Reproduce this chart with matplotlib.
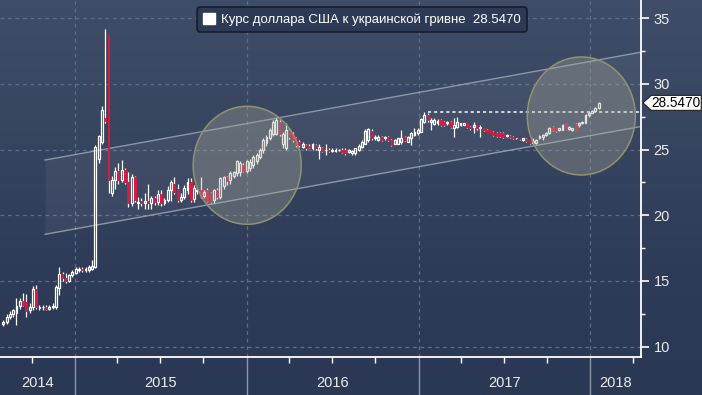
import numpy as np
import pandas as pd
import matplotlib
matplotlib.use("Agg")
import matplotlib.pyplot as plt
import matplotlib.dates as mdates
from matplotlib.patches import Ellipse, Polygon, Patch
from matplotlib.colors import LinearSegmentedColormap

plt.rcParams["font.family"] = ["Liberation Sans", "DejaVu Sans"]

# weekly USD/UAH candles, Aug 2014 - Jan 2018
opens = [11.7, 11.9, 12.3, 12.5, 12.6, 13.1, 13.5, 13.4, 12.8, 13.0,
         14.4, 12.95, 13.0, 13.05, 12.9, 13.0, 13.05, 14.5, 15.5, 15.25,
         15.0, 15.45, 15.6, 15.85, 15.9, 15.8, 15.85, 15.9, 16.1, 24.3,
         25.6, 27.4, 33.7, 21.7, 22.7, 23.4, 22.7, 23.45, 22.55, 20.9,
         22.9, 20.9, 21.05, 20.9, 21.1, 20.9, 21.3, 21.0, 21.6, 20.95,
         21.15, 21.9, 22.4, 22.0, 21.15, 21.4, 21.9, 22.55, 21.2, 21.85,
         21.95, 21.5, 21.9, 21.7, 21.15, 21.9, 21.4, 22.2, 22.9, 22.7,
         23.0, 23.2, 23.3, 23.8, 23.4, 23.6, 23.8, 24.1, 24.45, 24.95,
         25.5, 25.85, 26.2, 26.2, 27.1, 25.45, 25.1, 26.5, 26.2, 25.85,
         25.6, 25.2, 25.35, 25.3, 25.1, 25.35, 24.95, 25.1, 24.93, 24.95,
         24.85, 24.9, 24.93, 24.95, 25.0, 24.83, 24.7, 24.7, 25.0, 25.2,
         25.45, 25.7, 26.4, 25.85, 25.72, 25.97, 25.84, 25.97, 25.72, 25.45,
         25.45, 25.6, 25.97, 25.6, 25.84, 26.1, 26.22, 26.35, 27.1, 27.62,
         27.11, 26.92, 27.0, 27.24, 27.11, 26.98, 27.11, 26.6, 26.73, 26.86,
         26.9, 26.98, 26.73, 26.7, 26.86, 26.6, 26.6, 26.48, 26.48, 26.35,
         26.22, 26.22, 26.27, 26.02, 26.02, 25.97, 25.84, 25.84, 25.72, 25.77,
         25.72, 25.46, 25.46, 25.84, 25.97, 26.1, 26.22, 26.68, 26.6, 26.48,
         26.48, 26.98, 26.53, 26.48, 26.93, 26.86, 26.98, 27.04, 27.62, 27.8,
         27.95, 28.13]
highs = [12.0, 12.5, 12.7, 12.9, 13.7, 13.7, 14.1, 14.0, 13.3, 14.6,
         14.7, 13.2, 13.2, 13.2, 13.2, 13.35, 14.7, 16.05, 15.7, 15.6,
         15.55, 15.8, 16.1, 16.1, 16.1, 16.05, 16.2, 16.6, 25.35, 26.1,
         28.3, 34.2, 33.7, 23.0, 23.7, 23.95, 24.2, 23.6, 23.3, 23.1,
         23.0, 21.4, 21.3, 21.7, 22.4, 21.5, 21.5, 21.9, 21.9, 21.3,
         22.2, 22.7, 22.9, 22.4, 21.7, 22.3, 22.8, 22.8, 22.3, 22.0,
         22.9, 21.9, 22.1, 21.8, 22.0, 22.1, 22.9, 23.0, 23.0, 23.4,
         23.4, 24.2, 24.1, 24.0, 24.2, 24.3, 24.6, 24.7, 25.1, 25.85,
         26.1, 26.6, 27.25, 27.4, 27.25, 26.35, 27.0, 26.6, 26.35, 25.95,
         25.7, 25.6, 25.45, 25.4, 25.5, 25.45, 25.45, 25.2, 25.45, 25.1,
         25.1, 25.1, 25.05, 25.1, 25.1, 25.05, 25.0, 25.15, 25.4, 25.7,
         26.55, 26.6, 26.55, 26.1, 26.1, 26.05, 26.0, 26.05, 25.8, 25.8,
         25.9, 26.5, 26.05, 26.05, 26.35, 26.6, 26.6, 27.4, 27.88, 27.75,
         27.37, 27.37, 27.3, 27.3, 27.2, 27.2, 27.2, 27.37, 27.5, 27.05,
         27.05, 27.05, 26.8, 27.11, 26.9, 26.86, 26.65, 26.55, 26.5, 26.4,
         26.3, 26.3, 26.3, 26.15, 26.1, 26.0, 25.9, 25.9, 25.9, 25.85,
         25.75, 25.84, 25.8, 26.1, 26.15, 26.3, 26.73, 26.75, 26.65, 26.65,
         26.95, 27.0, 26.8, 26.65, 26.98, 27.11, 27.15, 27.7, 27.88, 28.0,
         28.26, 28.6]
lows = [11.6, 11.7, 12.1, 12.3, 11.65, 12.9, 13.1, 12.3, 12.6, 12.8,
        12.9, 12.8, 12.8, 12.8, 12.8, 12.85, 12.9, 13.9, 15.0, 14.85,
        14.9, 15.3, 15.5, 15.7, 15.7, 15.7, 15.7, 15.8, 16.0, 23.95,
        25.4, 27.0, 21.7, 21.5, 22.0, 22.4, 22.5, 22.4, 20.65, 20.7,
        21.0, 20.5, 20.7, 20.5, 20.5, 20.5, 20.8, 20.8, 20.7, 20.8,
        21.0, 21.1, 21.6, 21.0, 21.0, 21.2, 21.6, 21.0, 21.0, 21.6,
        21.3, 21.3, 21.0, 20.9, 20.9, 21.2, 21.2, 22.0, 22.3, 22.4,
        22.8, 23.0, 23.0, 23.3, 23.2, 23.4, 23.6, 23.9, 24.3, 24.7,
        25.3, 25.7, 26.0, 26.1, 26.0, 25.1, 24.95, 25.8, 25.6, 25.2,
        25.2, 25.1, 25.0, 25.1, 25.0, 25.0, 24.3, 24.8, 24.6, 24.8,
        24.8, 24.8, 24.85, 24.75, 24.6, 24.75, 24.6, 24.6, 24.9, 25.1,
        25.4, 25.6, 25.7, 25.7, 25.65, 25.65, 25.75, 25.65, 25.3, 25.4,
        25.4, 25.45, 25.65, 25.55, 25.35, 26.0, 26.1, 26.3, 27.0, 27.1,
        26.48, 26.85, 26.9, 26.8, 26.8, 26.9, 26.65, 25.97, 26.6, 26.8,
        26.85, 26.65, 26.5, 26.22, 26.5, 25.97, 26.4, 26.3, 26.3, 26.05,
        25.95, 25.95, 25.9, 25.95, 25.85, 25.8, 25.8, 25.7, 25.65, 25.6,
        25.45, 25.41, 25.4, 25.8, 25.72, 26.05, 26.15, 26.4, 26.35, 26.4,
        26.45, 26.45, 26.5, 26.4, 26.4, 26.73, 26.95, 27.0, 27.49, 27.75,
        27.9, 28.1]
closes = [11.9, 12.3, 12.5, 12.8, 13.1, 13.5, 13.2, 12.7, 13.0, 14.4,
          13.0, 13.0, 13.05, 12.9, 13.05, 13.1, 14.55, 15.5, 15.2, 15.0,
          15.45, 15.7, 15.95, 15.9, 15.82, 15.95, 16.05, 16.15, 25.2, 26.0,
          28.0, 27.2, 22.7, 22.7, 23.4, 22.7, 23.45, 22.55, 20.9, 22.9,
          21.15, 21.0, 20.9, 21.1, 20.9, 21.3, 21.0, 21.6, 20.9, 21.15,
          21.9, 22.55, 21.8, 21.15, 21.4, 22.05, 22.55, 21.15, 22.05, 21.95,
          21.5, 21.8, 21.1, 21.0, 21.9, 21.4, 22.8, 22.9, 22.6, 23.2,
          23.3, 24.1, 24.0, 23.4, 24.1, 24.05, 24.45, 24.6, 24.95, 25.7,
          25.95, 26.5, 27.1, 27.25, 26.2, 26.2, 26.5, 25.95, 25.7, 25.35,
          25.35, 25.45, 25.1, 25.2, 25.4, 25.1, 25.2, 24.85, 24.99, 24.85,
          24.95, 24.99, 24.97, 24.83, 24.7, 24.95, 24.9, 25.1, 25.3, 25.6,
          26.4, 26.55, 25.85, 25.97, 25.97, 25.72, 25.97, 25.72, 25.35, 25.72,
          25.84, 25.84, 25.72, 25.97, 26.22, 26.35, 26.48, 27.3, 27.62, 27.24,
          27.24, 27.24, 27.2, 26.86, 26.86, 27.11, 26.73, 26.86, 27.11, 26.98,
          26.98, 26.73, 26.6, 26.86, 26.6, 26.73, 26.48, 26.35, 26.35, 26.1,
          26.02, 26.02, 25.97, 26.1, 25.92, 25.84, 25.86, 25.77, 25.84, 25.67,
          25.51, 25.64, 25.72, 26.02, 26.1, 26.22, 26.6, 26.48, 26.43, 26.6,
          26.86, 26.48, 26.73, 26.6, 26.43, 27.04, 27.11, 27.62, 27.8, 27.95,
          28.13, 28.547]
dates = pd.date_range("2014-08-01", periods=len(closes), freq="7D")

legend_label = "Курс доллара США к украинской гривне  28.5470"
last_price = 28.5470
resistance = 27.88
resistance_start = "2017-01-21"
channel_x = ["2014-10-29", "2018-04-19"]
channel_upper = [24.2, 32.4]
channel_lower = [18.55, 26.75]
circle_centers = [("2016-01-02", 23.8), ("2017-12-13", 27.55)]
years = [2014, 2015, 2016, 2017, 2018]

red = "#e2173f"
grid_col = "#5d6e8a"

fig = plt.figure(figsize=(7.02, 3.95), dpi=100)

# background gradient
bg = fig.add_axes([0, 0, 1, 1], zorder=-5)
cmap = LinearSegmentedColormap.from_list("bg", ["#404d68", "#38455f", "#2f3c59", "#2b3854"])
bg.imshow(np.linspace(0, 1, 256).reshape(-1, 1), aspect="auto", cmap=cmap,
          extent=[0, 1, 0, 1])
bg.axis("off")

ax = fig.add_axes([0, 38 / 395, 641 / 702, 357 / 395])
ax.set_facecolor("none")

xlim = (mdates.datestr2num("2014-07-25"), mdates.datestr2num("2018-04-19"))
ax.set_xlim(xlim)
ax.set_ylim(9.22, 36.37)

# channel
cx = mdates.datestr2num(channel_x)
ax.fill_between(cx, channel_lower, channel_upper, color="white", alpha=0.05, lw=0, zorder=1)
ax.plot(cx, channel_upper, color="#a9b1c0", lw=1.0, alpha=0.75, zorder=2)
ax.plot(cx, channel_lower, color="#a9b1c0", lw=1.0, alpha=0.75, zorder=2)

# candles
x = mdates.date2num(dates)
o, h, l, c = (np.array(v) for v in (opens, highs, lows, closes))
up = c >= o
top = np.maximum(o, c)
bot = np.minimum(o, c)
body = np.maximum(top - bot, 0.06)
ax.vlines(x, top, h, color="white", lw=0.9, zorder=3)
ax.vlines(x, l, bot, color="white", lw=0.9, zorder=3)
ax.bar(x[up], body[up], bottom=bot[up], width=4.0, facecolor="none",
       edgecolor="white", lw=0.9, zorder=4)
ax.bar(x[~up], body[~up], bottom=bot[~up], width=4.0, color=red,
       edgecolor=red, lw=0.6, zorder=4)

# resistance dotted line
ax.hlines(resistance, mdates.datestr2num(resistance_start), xlim[1],
          color="white", lw=1.1, linestyles=(0, (2, 2)), zorder=5)

# circles (drawn on top, translucent)
for cd, cv in circle_centers:
    e = Ellipse((mdates.datestr2num(cd), cv), width=108 / 0.4699, height=118 / 13.15,
                facecolor="#a9ab98", alpha=0.33, edgecolor="none", zorder=6)
    ax.add_patch(e)
    e2 = Ellipse((mdates.datestr2num(cd), cv), width=108 / 0.4699, height=118 / 13.15,
                 facecolor="none", edgecolor="#8f9370", lw=1.1, zorder=6)
    ax.add_patch(e2)

# grid
ax.set_yticks([10, 15, 20, 25, 30, 35])
ax.set_yticks(np.arange(10, 36, 2.5), minor=True)
year_starts = [mdates.datestr2num(f"{y}-01-01") for y in years[1:]]
ax.set_xticks(year_starts)
ax.xaxis.set_minor_locator(mdates.MonthLocator(bymonth=[1, 4, 7, 10]))
ax.grid(True, which="major", color=grid_col, lw=0.9, linestyle=(0, (3, 3)))
ax.set_axisbelow(True)

ax.yaxis.tick_right()
ax.tick_params(axis="y", which="major", colors="white", length=6, width=1.2,
               labelsize=10.5, labelcolor="#ececec", pad=3)
ax.tick_params(axis="y", which="minor", colors="white", length=3, width=1)
ax.tick_params(axis="x", which="major", length=0, labelbottom=False)
ax.tick_params(axis="x", which="minor", colors="white", length=4, width=1)

for s in ["top", "left"]:
    ax.spines[s].set_visible(False)
for s in ["right", "bottom"]:
    ax.spines[s].set_color("white")
    ax.spines[s].set_linewidth(1.3)

# year separators and labels
tr = ax.get_xaxis_transform()
for xs in year_starts:
    ax.plot([xs, xs], [0, -0.11], transform=tr, color="#8c95a8", lw=1, clip_on=False)
bounds = [xlim[0]] + year_starts + [xlim[1]]
for y, a, b in zip(years, bounds[:-1], bounds[1:]):
    ax.text((a + b) / 2, -0.073, str(y), transform=tr, ha="center", va="center",
            color="#ececec", fontsize=10.5)

# last price tag
ty = ax.get_yaxis_transform()
hh = 7.5 / 13.15
tag = Polygon([(1.003, last_price), (1.016, last_price + hh), (1.094, last_price + hh),
               (1.094, last_price - hh), (1.016, last_price - hh)], closed=True,
              transform=ty, facecolor="white", edgecolor="#222222", lw=0.8,
              clip_on=False, zorder=10)
ax.add_patch(tag)
ax.text(1.055, last_price, f"{last_price:.4f}", transform=ty, ha="center", va="center",
        fontsize=9.8, color="black", zorder=11, clip_on=False)

# legend
leg = fig.legend(handles=[Patch(facecolor="white", edgecolor="white")], labels=[legend_label],
                 loc="upper left", bbox_to_anchor=(197 / 702, 1 - 7 / 395),
                 bbox_transform=fig.transFigure, frameon=True, fontsize=9.5,
                 handlelength=0.9, handleheight=0.9, handletextpad=0.5,
                 borderpad=0.45, borderaxespad=0, fancybox=True)
leg.get_frame().set_facecolor("#2d3a55")
leg.get_frame().set_edgecolor("#161d2b")
leg.get_frame().set_linewidth(1.2)
leg.get_frame().set_alpha(1)
for t in leg.get_texts():
    t.set_color("white")

fig.savefig("out.png", dpi=100, facecolor=fig.get_facecolor())
